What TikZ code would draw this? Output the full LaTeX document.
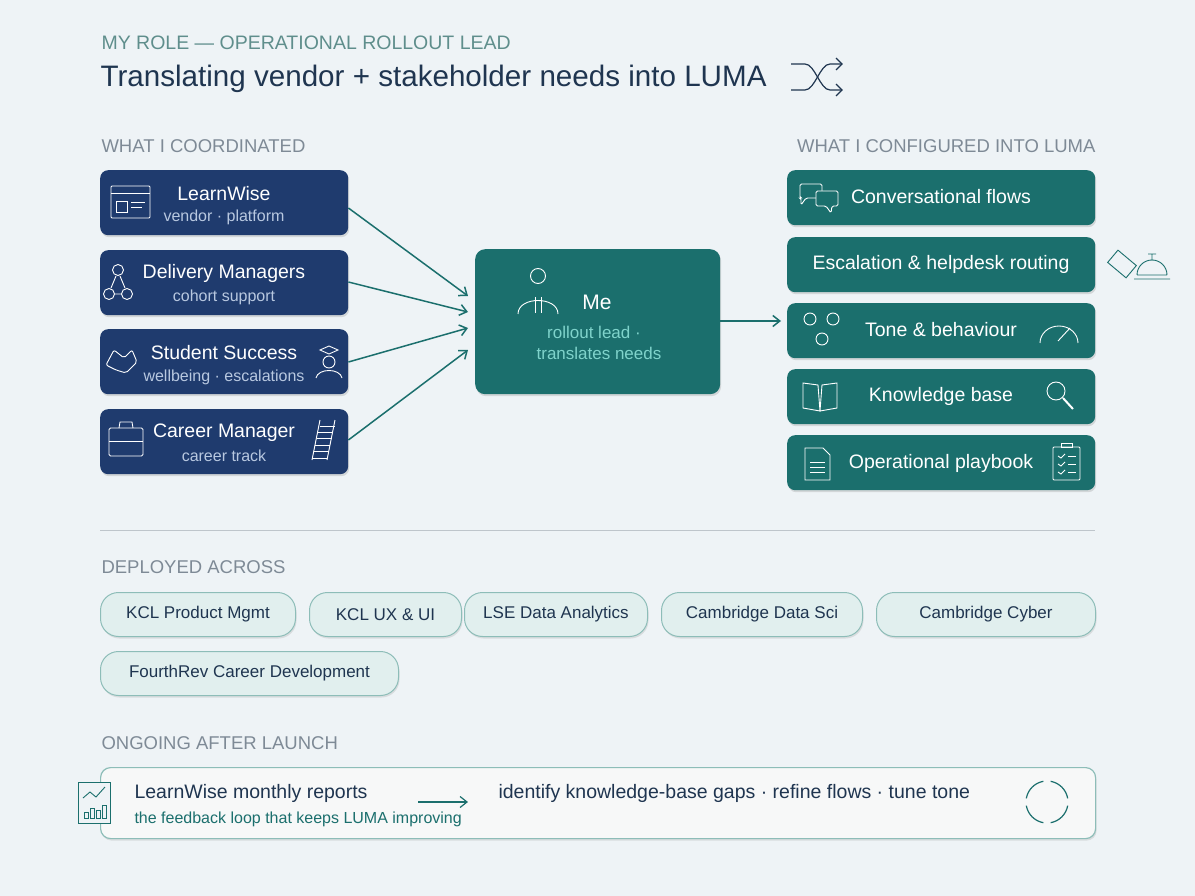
\documentclass[tikz,border=0pt]{standalone}
\usepackage{fontspec}
\setmainfont{Liberation Sans}
\usetikzlibrary{arrows.meta,shadows}
\definecolor{bg}{HTML}{EEF3F6}
\definecolor{navy}{HTML}{1F3B6E}
\definecolor{teal}{HTML}{1B6F6D}
\definecolor{ink}{HTML}{1F3550}
\definecolor{head}{HTML}{5F8E8C}
\definecolor{pill}{HTML}{E1EFEE}
\definecolor{pillb}{HTML}{8DBDB8}
\definecolor{sub}{HTML}{B8C8E0}
\definecolor{subt}{HTML}{7FD3CB}
\definecolor{grey}{HTML}{7E8A96}
\begin{document}
\begin{tikzpicture}[x=1pt,y=-1pt,
  hdr/.style={anchor=west,text=grey,font=\fontsize{18.5}{21}\selectfont},
  navybox/.style={draw=none,fill=navy,rounded corners=8pt,minimum width=248pt,minimum height=65pt,anchor=north west,drop shadow={opacity=0.25,shadow xshift=1pt,shadow yshift=-2pt}},
  tealbox/.style={draw=none,fill=teal,rounded corners=8pt,minimum width=308pt,minimum height=55pt,anchor=north west,drop shadow={opacity=0.25,shadow xshift=1pt,shadow yshift=-2pt}},
  pillbox/.style={draw=pillb,line width=1pt,fill=pill,rounded corners=18pt,minimum height=44pt,anchor=north west,text=ink,font=\fontsize{17}{19}\selectfont,drop shadow={opacity=0.2,shadow xshift=1pt,shadow yshift=-2pt}},
  ttl/.style={text=white,font=\fontsize{19.5}{22}\selectfont},
  subl/.style={text=sub,font=\fontsize{16}{18}\selectfont},
  arr/.style={draw=teal,line width=1.5pt,-{Straight Barb[length=7pt,width=11pt]}},
  ico/.style={draw=white,line width=0.9pt},
  icot/.style={draw=teal,line width=0.9pt}]
\fill[bg] (0,0) rectangle (1195,896);
\useasboundingbox (0,0) rectangle (1195,896);
\node[anchor=west,text=head,font=\fontsize{19.5}{22}\selectfont] (role) at (98,43) {MY ROLE — OPERATIONAL ROLLOUT LEAD};
\node[anchor=west,text=ink,font=\fontsize{29.6}{34}\selectfont] (title) at (97,79) {Translating vendor + stakeholder needs into LUMA};
% shuffle icon
\begin{scope}[draw=ink,line width=1.2pt]
\draw (791,64) -- (805,64) .. controls (815,64) and (820,90) .. (830,90) -- (842,90);
\draw (791,90) -- (805,90) .. controls (815,90) and (820,64) .. (830,64) -- (842,64);
\draw (836,58) -- (842,64) -- (836,70); \draw (836,84) -- (842,90) -- (836,96);
\end{scope}
\node[hdr] (h1) at (98,146) {WHAT I COORDINATED};
\node[hdr,anchor=east] (h2) at (1099,146) {WHAT I CONFIGURED INTO LUMA};
% left boxes
\node[navybox] (lw) at (100,170) {};
\node[navybox] (dm) at (100,250) {};
\node[navybox] (ss) at (100,329) {};
\node[navybox] (cm) at (100,409) {};
\node[ttl] at (224,194) {LearnWise}; \node[subl] at (224,217) {vendor · platform};
\node[ttl] at (224,273) {Delivery Managers}; \node[subl] at (224,297) {cohort support};
\node[ttl] at (224,353) {Student Success}; \node[subl] at (224,377) {wellbeing · escalations};
\node[ttl] at (224,433) {Career Manager}; \node[subl] at (224,456) {career track};
% icons left
\draw[ico,rounded corners=1pt] (111,186) rectangle (150,218); \draw[ico] (111,193)--(150,193);
\draw[ico] (116,201) rectangle (127,212); \draw[ico] (131,202)--(145,202) (131,207)--(142,207);
\foreach \p in {(118,270),(109,294),(127,294)} {\draw[ico] \p circle (5.5pt);}
\draw[ico] (116,276)--(111,288) (120,276)--(125,288) (115,294)--(121,294);
\draw[ico,rounded corners=2pt] (106,365)--(114,350)--(124,358)--(132,350)--(137,362)--(126,373)--(116,370)--cycle;
\draw[ico] (320,350)--(329,346)--(338,350)--(329,354)--cycle; \draw[ico] (329,362) circle (6pt); \draw[ico] (316,378) .. controls (318,368) and (340,368) .. (342,378);
\draw[ico,rounded corners=1.5pt] (109,428) rectangle (143,456); \draw[ico] (119,428)--(120,422)--(132,422)--(133,428); \draw[ico] (109,441)--(143,441);
\draw[ico] (320,420)--(312,460) (335,420)--(327,460); \foreach \i in {0,...,5}{\draw[ico] ({320-\i*1.6},{426+\i*6.4})--({335-\i*1.6},{426+\i*6.4});}
% me box
\node[fill=teal,rounded corners=10pt,minimum width=245pt,minimum height=145pt,anchor=north west,drop shadow={opacity=0.25,shadow xshift=1pt,shadow yshift=-2pt}] (me) at (475,249) {};
\node[text=white,font=\fontsize{21}{24}\selectfont] at (597,302) {Me};
\node[text=subt,font=\fontsize{17}{20}\selectfont,align=center] at (594,343) {rollout lead ·\\[1pt]\hspace*{10pt}translates needs};
\draw[ico] (538,276) circle (7.5pt); \draw[ico] (518,314) .. controls (518,296) and (558,296) .. (558,314);
\draw[ico] (535,297)--(535,313) (541,297)--(541,313);
% right boxes
\node[tealbox] (cf) at (787,170) {};
\node[tealbox] (es) at (787,237) {};
\node[tealbox] (tb) at (787,303) {};
\node[tealbox] (kb) at (787,369) {};
\node[tealbox] (op) at (787,435) {};
\node[ttl] at (941,197) {Conversational flows};
\node[ttl] at (941,264) {Escalation \& helpdesk routing};
\node[ttl] at (941,330) {Tone \& behaviour};
\node[ttl] at (941,396) {Knowledge base};
\node[ttl] at (941,463) {Operational playbook};
% right icons
\draw[ico,rounded corners=1.5pt] (800,184)--(822,184)--(822,198)--(806,198)--(801,205)--(801,198)--(800,198)--cycle;
\draw[ico,fill=teal,rounded corners=1.5pt] (816,191)--(838,191)--(838,206)--(832,206)--(831,213)--(826,206)--(816,206)--cycle;
\foreach \p in {(810,319),(833,319),(822,339)} {\draw[ico] \p circle (6pt);}
\draw[ico] (1040,343) arc (180:0:19pt and 17pt); \draw[ico] (1058,341)--(1070,328);
\draw[ico] (803,383)--(818,385)--(820,411)--(803,408)--cycle (837,383)--(822,385)--(820,411)--(837,408)--cycle;
\draw[ico] (1056,391) circle (9pt); \draw[ico,line width=2pt] (1063,398)--(1073,409);
\draw[ico] (805,448)--(823,448)--(830,455)--(830,480)--(805,480)--cycle; \foreach \y in {462,467,472}{\draw[ico] (810,\y)--(825,\y);}
\draw[ico,rounded corners=1pt] (1053,447) rectangle (1080,480); \draw[ico] (1061,447) rectangle (1072,443);
\foreach \y in {456,464,472}{\draw[ico] (1058,\y)--(1061,{\y+2})--(1065,{\y-2}); \draw[ico] (1068,\y)--(1076,\y);}
% outside icons
\draw[icot,rotate around={-40:(1122,264)}] (1110,256) rectangle (1134,272);
\draw[icot] (1134,279) -- (1170,279) (1137,275)--(1167,275) (1137,275) arc (180:0:15pt) (1152,260)--(1152,254) (1148,254)--(1156,254);
% arrows
\draw[arr] (lw.east|-0,208) -- (468,296);
\draw[arr] (dm.east|-0,282) -- (468,312);
\draw[arr] (ss.east|-0,362) -- (468,328);
\draw[arr] (cm.east|-0,440) -- (468,350);
\draw[arr] (me.east|-0,321) -- (781,321);
% separator
\draw[draw=grey!50,line width=0.8pt] (100,530) -- (1095,530);
\node[hdr] (h3) at (98,567) {DEPLOYED ACROSS};
\node[pillbox,minimum width=195pt] (p1) at (100,592) {KCL Product Mgmt};
\node[pillbox,minimum width=152pt] (p2) at (309,592) {KCL UX \& UI};
\node[pillbox,minimum width=183pt] (p3) at (464,592) {LSE Data Analytics};
\node[pillbox,minimum width=201pt] (p4) at (661,592) {Cambridge Data Sci};
\node[pillbox,minimum width=219pt] (p5) at (876,592) {Cambridge Cyber};
\node[pillbox,minimum width=298pt] (p6) at (100,651) {FourthRev Career Development};
\node[hdr] (h4) at (98,743) {ONGOING AFTER LAUNCH};
\node[draw=pillb,line width=1.2pt,fill=bg!70!gray!15,rounded corners=10pt,minimum width=995pt,minimum height=71pt,anchor=north west,drop shadow={opacity=0.2,shadow xshift=1pt,shadow yshift=-2pt}] (loop) at (100,767) {};
\node[anchor=west,text=ink,font=\fontsize{19.5}{22}\selectfont] (lr) at (131,793) {LearnWise monthly reports};
\node[anchor=west,text=teal,font=\fontsize{16}{18}\selectfont] (fb) at (131,819) {the feedback loop that keeps LUMA improving};
\node[anchor=west,text=ink,font=\fontsize{19.5}{22}\selectfont] (id) at (495,793) {identify knowledge-base gaps · refine flows · tune tone};
\coordinate (a1) at (418,802); \coordinate (a2) at (468,802);
\draw[arr,line width=1.2pt] (a1) -- (a2);
% chart icon
\draw[icot,fill=bg] (78,782) rectangle (110,823);
\draw[icot] (83,798)--(90,792)--(96,797)--(105,787);
\foreach \x/\h in {84/6,90/10,96/8,102/13}{\draw[icot] (\x,818) rectangle ({\x+4},{818-\h});}
% cycle icon
\begin{scope}[icot,line width=1.2pt]
\draw (1047,802) ++(100:21pt) arc (100:170:21pt); \draw (1047,802) ++(190:21pt) arc (190:260:21pt);
\draw (1047,802) ++(280:21pt) arc (280:350:21pt); \draw (1047,802) ++(10:21pt) arc (10:80:21pt);
\end{scope}
\end{tikzpicture}
\end{document}
